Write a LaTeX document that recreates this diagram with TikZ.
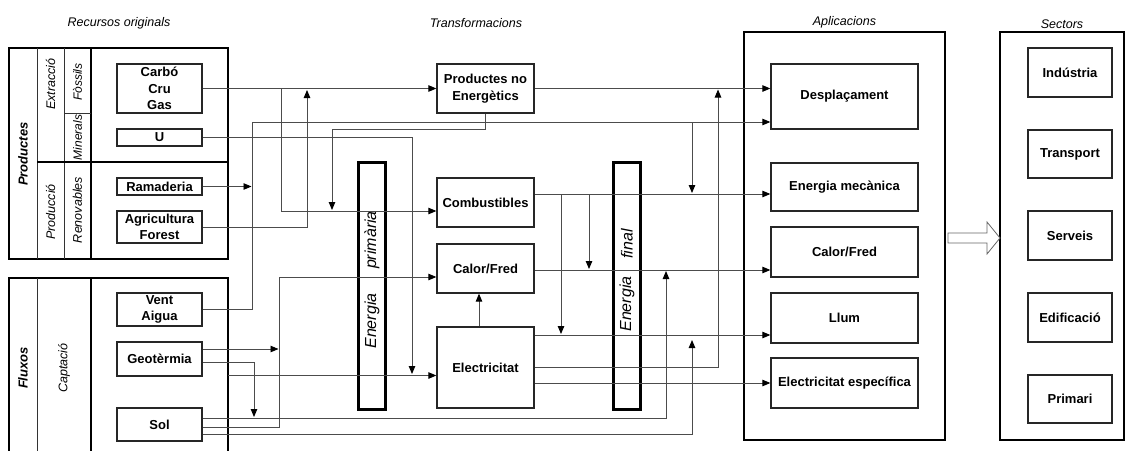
\documentclass[tikz,border=0pt]{standalone}
\usepackage{fontspec}
\setmainfont{Liberation Sans}
\usetikzlibrary{arrows.meta,calc}
\begin{document}
\begin{tikzpicture}[x=1pt,y=-1pt,
  box/.style={draw=black!85,line width=1.3pt,inner sep=0pt,align=center,font=\fontsize{13}{16.5}\selectfont\bfseries},
  outer/.style={draw=black,line width=2.2pt,inner sep=0pt},
  barbox/.style={draw=black,line width=3pt,inner sep=0pt,minimum width=27pt,minimum height=247pt},
  conn/.style={draw=black!70,line width=0.9pt,-{Triangle[length=8pt,width=6.5pt,color=black]}},
  title/.style={font=\itshape\fontsize{12.5}{14}\selectfont},
  rotlab/.style={rotate=90,inner sep=0pt,font=\itshape\fontsize{12.5}{14}\selectfont},
  rotsmall/.style={rotate=90,inner sep=0pt,font=\itshape\fontsize{12}{14}\selectfont},
  rotbold/.style={rotate=90,inner sep=0pt,font=\bfseries\itshape\fontsize{13}{15}\selectfont},
  barlab/.style={rotate=90,inner sep=0pt,font=\itshape\fontsize{16}{18}\selectfont},
  sz/.style 2 args={minimum width=#1pt,minimum height=#2pt},
  thinrule/.style={draw=black!80,line width=0.8pt},
  thickrule/.style={draw=black,line width=1.4pt}
]
\useasboundingbox (0,0) rectangle (1126,450);

% ---------- titles
\node[title] (t1) at (119,23) {Recursos originals};
\node[title] (t2) at (476,23) {Transformacions};
\node[title] (t3) at (844.5,22) {Aplicacions};
\node[title] (t4) at (1062,24) {Sectors};

% ---------- left panels
\node[outer,sz={219}{211}] (prod) at (118.5,153.5) {};
\node[outer,sz={219}{192}] (flux) at (118.5,374) {};
\draw[thinrule] (37,48) -- (37,259);
\draw[thinrule] (64,48) -- (64,259);
\draw[thickrule] (91,48) -- (91,259);
\draw[thinrule] (64,113) -- (91,113);
\draw[thickrule,line width=1.1pt] (37,162) -- (228,162);
\draw[thinrule] (37,278) -- (37,452);
\draw[thickrule] (91,278) -- (91,452);

\node[rotbold] (lp) at (23,154) {Productes};
\node[rotlab] (lext) at (50.5,84) {Extracció};
\node[rotsmall] (lfos) at (77.5,82) {Fòssils};
\node[rotsmall] (lmin) at (77.5,137.5) {Minerals};
\node[rotlab] (lpro) at (50.5,212) {Producció};
\node[rotlab] (lren) at (77.5,210) {Renovables};
\node[rotbold] (lflu) at (23,368) {Fluxos};
\node[rotlab] (lcap) at (64,368) {Captació};

\node[box,sz={85}{49}] (carbo) at (159.5,88.5) {Carbó\\Cru\\Gas};
\node[box,sz={85}{17}] (uran) at (159.5,137.5) {U};
\node[box,sz={85}{17}] (ramad) at (159.5,186.5) {Ramaderia};
\node[box,sz={85}{32}] (agri) at (159.5,227) {Agricultura\\Forest};
\node[box,sz={85}{33}] (vent) at (159.5,309.5) {Vent\\Aigua};
\node[box,sz={85}{34}] (geo) at (159.5,359) {Geotèrmia};
\node[box,sz={85}{33}] (sol) at (159.5,424.5) {Sol};

% ---------- transformations
\node[box,sz={97}{49}] (pne) at (485.5,88.5) {Productes no\\Energètics};
\node[box,sz={97}{49}] (comb) at (485.5,202.5) {Combustibles};
\node[box,sz={97}{49}] (cal1) at (485.5,268.5) {Calor/Fred};
\node[box,sz={97}{81}] (elec) at (485.5,367.5) {Electricitat};

\node[barbox] (bar1) at (372,285.5) {};
\node[barbox] (bar2) at (626.5,285.5) {};
\node[barlab] (bl1) at (372,321) {Energia};
\node[barlab] (bl2) at (372,240) {primària};
\node[barlab] (bl3) at (627,304) {Energia};
\node[barlab] (bl4) at (627,244) {final};

% ---------- applications
\node[outer,sz={201}{408}] (apps) at (844.5,236) {};
\node[box,sz={147}{65}] (desp) at (844.5,96.5) {Desplaçament};
\node[box,sz={147}{48}] (mec) at (844.5,187) {Energia mecànica};
\node[box,sz={147}{50}] (cal2) at (844.5,252) {Calor/Fred};
\node[box,sz={147}{50}] (llum) at (844.5,318) {Llum};
\node[box,sz={147}{50}] (eesp) at (844.5,383) {Electricitat específica};

% ---------- sectors
\node[outer,sz={124}{408}] (secs) at (1062,236) {};
\node[box,sz={84}{49}] (ind) at (1070,72.5) {Indústria};
\node[box,sz={84}{48}] (trn) at (1070,154) {Transport};
\node[box,sz={84}{49}] (srv) at (1070,235.5) {Serveis};
\node[box,sz={84}{49}] (edf) at (1070,317.5) {Edificació};
\node[box,sz={84}{48}] (prm) at (1070,399) {Primari};

% hollow arrow
\draw[line width=0.8pt,draw=black!60,fill=white]
  (948,233) -- (987,233) -- (987,222) -- (1000,238) -- (987,254) -- (987,243) -- (948,243) -- cycle;

% ---------- connectors
\coordinate (a2) at (281,88.5);
\coordinate (a3) at (307,90);
\coordinate (a4) at (251.5,186.5);
\coordinate (a5) at (252,122);
\coordinate (u1) at (412,137.5);
\coordinate (u2) at (412,374);
\coordinate (p1) at (485.5,129);
\coordinate (p2) at (332,129);
\coordinate (p3) at (332,210);
\coordinate (m1) at (692,122);
\coordinate (m2) at (692,193);
\coordinate (b1) at (561,194);
\coordinate (b1e) at (561,334);
\coordinate (b2) at (589,194);
\coordinate (b2e) at (589,269);
\coordinate (e2b) at (718,367);
\coordinate (e2c) at (718,89.5);
\coordinate (g1) at (278.5,349);
\coordinate (g2) at (254,362);
\coordinate (g3) at (254,417);
\coordinate (s1) at (666,418);
\coordinate (s1e) at (666,271);
\coordinate (s2) at (279,427);
\coordinate (s2b) at (279,277);
\coordinate (s3) at (692,434);
\coordinate (s3e) at (692,340);
\coordinate (fe) at (228,375.5);

\draw[conn] (carbo.east) -- (pne.west);
\draw[conn] (a2) |- ([yshift=-8.5pt]comb.west);
\draw[conn] (agri.east) -| (a3);
\draw[conn] (ramad.east) -- (a4);
\draw[conn] (vent.east) -| (a5) -- (a5 -| desp.west);
\draw[conn] (uran.east) -- (u1) -- (u2);
\draw[conn] (pne.south) -- (p1) -- (p2) -- (p3);
\draw[conn] (pne.east) -- (pne.east -| desp.west);
\draw[conn] (m1) -- (m2);
\draw[conn] ([yshift=8.5pt]comb.east) coordinate (c0) -- (c0 -| mec.west);
\draw[conn] (b1) -- (b1e);
\draw[conn] (b2) -- (b2e);
\draw[conn] ([yshift=-1.5pt]cal1.east) coordinate (k0) -- (k0 -| cal2.west);
\draw[conn] ([xshift=-6.5pt]elec.north) -- ([xshift=-6.5pt]cal1.south);
\draw[conn] ([yshift=32.5pt]elec.east) coordinate (e1) -- (e1 -| llum.west);
\draw[conn] ([yshift=0.5pt]elec.east) -- (e2b) -- (e2c);
\draw[conn] ([yshift=-15.5pt]elec.east) coordinate (e3) -- (e3 -| eesp.west);
\draw[conn] ([yshift=10pt]geo.east) -- (g1);
\draw[conn] ([yshift=-3pt]geo.east) -- (g2) -- (g3);
\draw[conn] ([yshift=6.5pt]sol.east) -- (s1) -- (s1e);
\draw[conn] ([yshift=-2.5pt]sol.east) -- (s2) -- (s2b) -- (s2b -| cal1.west);
\draw[conn] ([yshift=-9.5pt]sol.east) -- (s3) -- (s3e);
\draw[conn] (fe) -- (fe -| elec.west);
\end{tikzpicture}
\end{document}
